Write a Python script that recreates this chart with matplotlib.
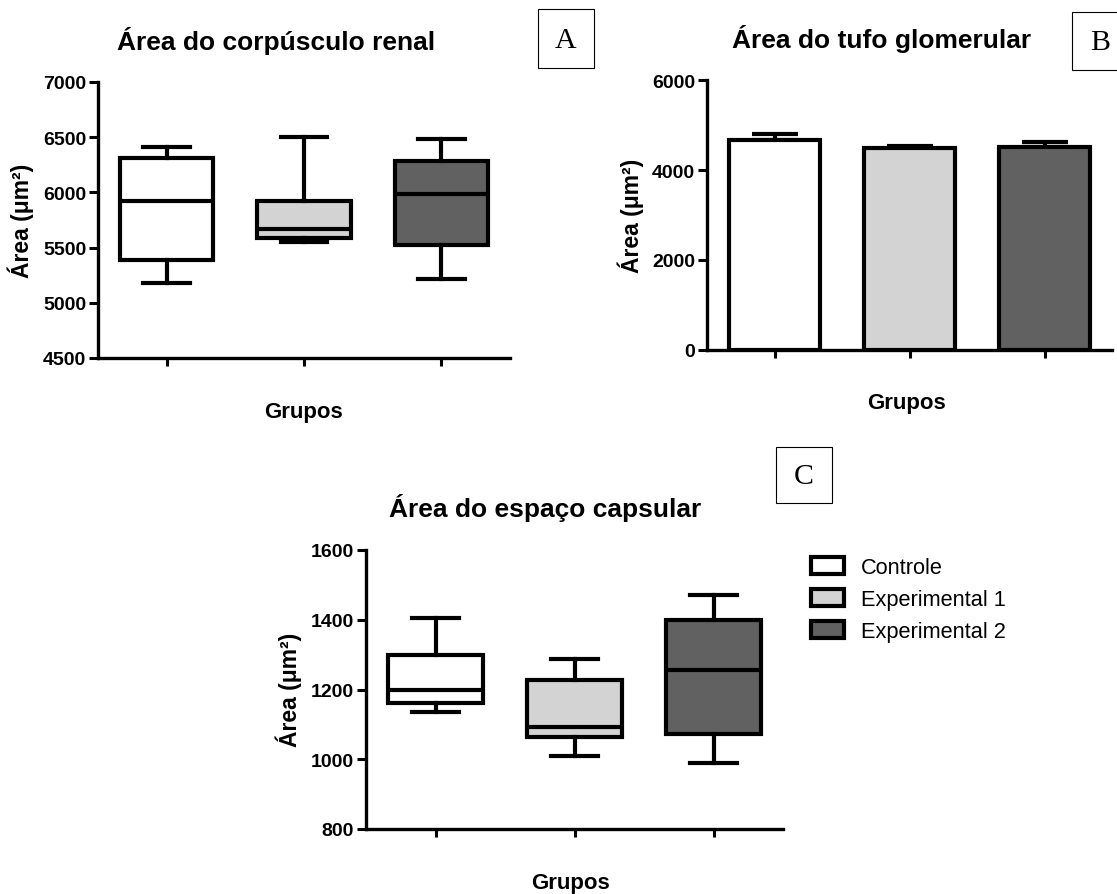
import matplotlib
matplotlib.use('Agg')
import matplotlib.pyplot as plt
from matplotlib.patches import Patch, Rectangle

plt.rcParams['font.family'] = ['Liberation Sans', 'DejaVu Sans']

W, H = 1117, 895

groups = ['Controle', 'Experimental 1', 'Experimental 2']
colors = ['#ffffff', '#d3d3d3', '#616161']

# A: Área do corpúsculo renal (box plot, min/max whiskers)
a_min = [5182, 5554, 5216]
a_q1 = [5388, 5587, 5521]
a_med = [5919, 5671, 5986]
a_q3 = [6309, 5926, 6284]
a_max = [6414, 6499, 6481]

# B: Área do tufo glomerular (mean + SEM)
b_mean = [4667, 4478, 4518]
b_sem = [140, 66, 112]

# C: Área do espaço capsular
c_min = [1136, 1010, 989]
c_q1 = [1161, 1065, 1072]
c_med = [1200, 1093, 1257]
c_q3 = [1300, 1228, 1399]
c_max = [1404, 1287, 1472]

LW = 3.0


def fx(x):
    return x / W


def fy(y):
    return 1 - y / H


def rect(l, t, r, b):
    return [fx(l), fy(b), (r - l) / W, (b - t) / H]


def style_axes(ax, yticks):
    for s in ['top', 'right']:
        ax.spines[s].set_visible(False)
    for s in ['left', 'bottom']:
        ax.spines[s].set_linewidth(2.4)
    ax.set_xlim(-0.5, 2.5)
    ax.set_ylim(yticks[0], yticks[-1])
    ax.set_yticks(yticks)
    ax.set_xticks([0, 1, 2])
    ax.set_xticklabels([])
    ax.tick_params(axis='y', length=6.5, width=2.2, pad=2, labelsize=14)
    ax.tick_params(axis='x', length=6, width=2.2)
    for lbl in ax.get_yticklabels():
        lbl.set_fontweight('bold')


def boxes(ax, lo, q1, med, q3, hi):
    stats = []
    for i in range(3):
        stats.append(dict(whislo=lo[i], q1=q1[i], med=med[i], q3=q3[i], whishi=hi[i]))
    bp = ax.bxp(stats, positions=[0, 1, 2], widths=0.68, capwidths=0.34,
                patch_artist=True, showfliers=False, manage_ticks=False,
                boxprops=dict(linewidth=LW, edgecolor='black'),
                whiskerprops=dict(linewidth=LW, color='black'),
                capprops=dict(linewidth=LW, color='black'),
                medianprops=dict(linewidth=LW, color='black'))
    for patch, c in zip(bp['boxes'], colors):
        patch.set_facecolor(c)


fig = plt.figure(figsize=(W / 100, H / 100), dpi=100)

# ── A ─────────────────────────────────────────────
axA = fig.add_axes(rect(98, 83, 510, 359))
boxes(axA, a_min, a_q1, a_med, a_q3, a_max)
style_axes(axA, [4500, 5000, 5500, 6000, 6500, 7000])

# ── B ─────────────────────────────────────────────
axB = fig.add_axes(rect(707, 81, 1112, 351))
axB.errorbar([0, 1, 2], b_mean, yerr=[[0, 0, 0], b_sem], fmt='none',
             ecolor='black', elinewidth=LW, capsize=16.5, capthick=LW, zorder=1)
axB.bar([0, 1, 2], b_mean, width=0.67, color=colors, edgecolor='black',
        linewidth=LW, zorder=2)
style_axes(axB, [0, 2000, 4000, 6000])

# ── C ─────────────────────────────────────────────
axC = fig.add_axes(rect(366, 551, 783, 830))
boxes(axC, c_min, c_q1, c_med, c_q3, c_max)
style_axes(axC, [800, 1000, 1200, 1400, 1600])

# titles, axis labels
titles = [('Área do corpúsculo renal', 276, 50),
          ('Área do tufo glomerular', 882, 48),
          ('Área do espaço capsular', 545, 517)]
for txt, x, y in titles:
    fig.text(fx(x), fy(y), txt, ha='center', va='baseline',
             fontsize=19, fontweight='bold')

for x, y in [(21, 221), (631, 216), (289, 690)]:
    fig.text(fx(x), fy(y), 'Área (μm²)', rotation=90, ha='center', va='center',
             fontsize=16.5, fontweight='bold')

for x, y in [(304, 413), (906, 404), (570, 884)]:
    fig.text(fx(x), fy(y), 'Grupos', ha='center', va='center',
             fontsize=16, fontweight='bold')

# panel letters
for letter, l, t, r, b in [('A', 538, 10, 594, 69), ('B', 1072, 13, 1128, 71),
                           ('C', 776, 448, 832, 504)]:
    fig.patches.append(Rectangle((fx(l), fy(b)), (r - l) / W, (b - t) / H,
                                 transform=fig.transFigure, facecolor='white',
                                 edgecolor='black', linewidth=0.8))
    fig.text(fx((l + r) / 2), fy((t + b) / 2 + 1), letter, ha='center', va='center',
             fontsize=21.5, family=['Liberation Serif', 'DejaVu Serif'])

# legend
handles = [Patch(facecolor=c, edgecolor='black', linewidth=LW) for c in colors]
fig.legend(handles, groups, loc='upper left', bbox_to_anchor=(fx(811), fy(558)),
           frameon=False, fontsize=15.7, handlelength=1.5, handleheight=0.8,
           handletextpad=0.8, labelspacing=0.5, borderpad=0, borderaxespad=0)

fig.savefig('out.png', dpi=100)
